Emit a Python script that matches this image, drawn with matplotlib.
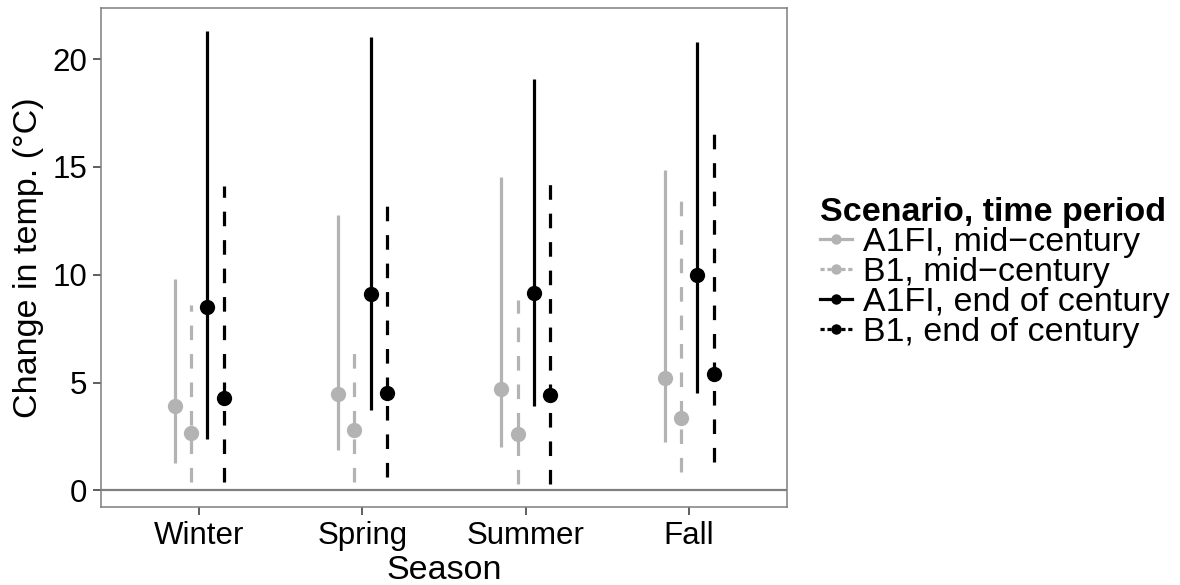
import numpy as np
import matplotlib
matplotlib.use('Agg')
import matplotlib.pyplot as plt
from matplotlib.lines import Line2D

plt.rcParams['font.family'] = ['Liberation Sans', 'DejaVu Sans']
plt.rcParams['lines.scale_dashes'] = False

seasons = ['Winter', 'Spring', 'Summer', 'Fall']
series = ['A1FI, mid\u2212century', 'B1, mid\u2212century',
          'A1FI, end of century', 'B1, end of century']

# point estimates and ranges, per series, per season
a1fi_mid = [3.90, 4.45, 4.69, 5.19]
a1fi_mid_lo = [1.25, 1.86, 2.01, 2.24]
a1fi_mid_hi = [9.79, 12.77, 14.52, 14.86]

b1_mid = [2.65, 2.78, 2.60, 3.37]
b1_mid_lo = [0.37, 0.37, 0.31, 0.85]
b1_mid_hi = [8.59, 6.50, 8.82, 13.83]

a1fi_end = [8.50, 9.13, 9.16, 9.99]
a1fi_end_lo = [2.37, 3.74, 3.92, 4.54]
a1fi_end_hi = [21.32, 21.04, 19.07, 20.79]

b1_end = [4.28, 4.52, 4.41, 5.42]
b1_end_lo = [0.39, 0.62, 0.28, 1.31]
b1_end_hi = [14.12, 13.55, 14.60, 17.03]

means = [a1fi_mid, b1_mid, a1fi_end, b1_end]
lows = [a1fi_mid_lo, b1_mid_lo, a1fi_end_lo, b1_end_lo]
highs = [a1fi_mid_hi, b1_mid_hi, a1fi_end_hi, b1_end_hi]

grey = '#b3b3b3'
colors = [grey, grey, 'black', 'black']
dashed = (0, (10.5, 10))
styles = ['-', dashed, '-', dashed]
offsets = [-0.15, -0.05, 0.05, 0.15]

fig = plt.figure(figsize=(11.8, 5.85), dpi=100)
ax = fig.add_axes([0.0856, 0.1333, 0.667 - 0.0856, 0.9863 - 0.1333])

ax.axhline(0, color='#7f7f7f', linewidth=1.6, zorder=1)

x = np.arange(1, len(seasons) + 1)
for k in range(4):
    for i in range(len(seasons)):
        xi = x[i] + offsets[k]
        ax.plot([xi, xi], [lows[k][i], highs[k][i]], color=colors[k],
                linestyle=styles[k], linewidth=2.3, solid_capstyle='butt',
                dash_capstyle='butt', zorder=2)
    ax.plot(x + offsets[k], means[k], 'o', color=colors[k], markersize=11,
            markeredgewidth=0, zorder=3)

ax.set_xlim(0.4, 4.6)
ax.set_ylim(-0.77, 22.37)
ax.set_xticks(x)
ax.set_xticklabels(seasons)
ax.set_yticks([0, 5, 10, 15, 20])
ax.tick_params(axis='both', labelsize=22.5, length=6, width=1.1, color='#333333',
               labelcolor='black', pad=4)
for s in ax.spines.values():
    s.set_color('#7f7f7f')
    s.set_linewidth(1.1)

ax.set_xlabel('Season', fontsize=24.5, labelpad=3)
ax.set_ylabel('Change in temp. (\u00b0C)', fontsize=24.5, labelpad=6)

handles = []
for k in range(4):
    handles.append(Line2D([0], [0], color=colors[k], linestyle='-' if k % 2 == 0 else (0, (3, 2)),
                          linewidth=2.3, marker='o', markersize=7.5, markeredgewidth=0))
leg = fig.legend(handles, series, title='Scenario, time period', loc='upper left',
                 bbox_to_anchor=(0.695, 0.663), frameon=False, fontsize=24.5,
                 handlelength=0.95, handletextpad=0.3, labelspacing=-0.03,
                 borderaxespad=0, borderpad=0)
leg.get_title().set_fontweight('bold')
leg.get_title().set_fontsize(24.5)
leg._legend_box.align = 'left'

fig.savefig('out.png', dpi=100)
